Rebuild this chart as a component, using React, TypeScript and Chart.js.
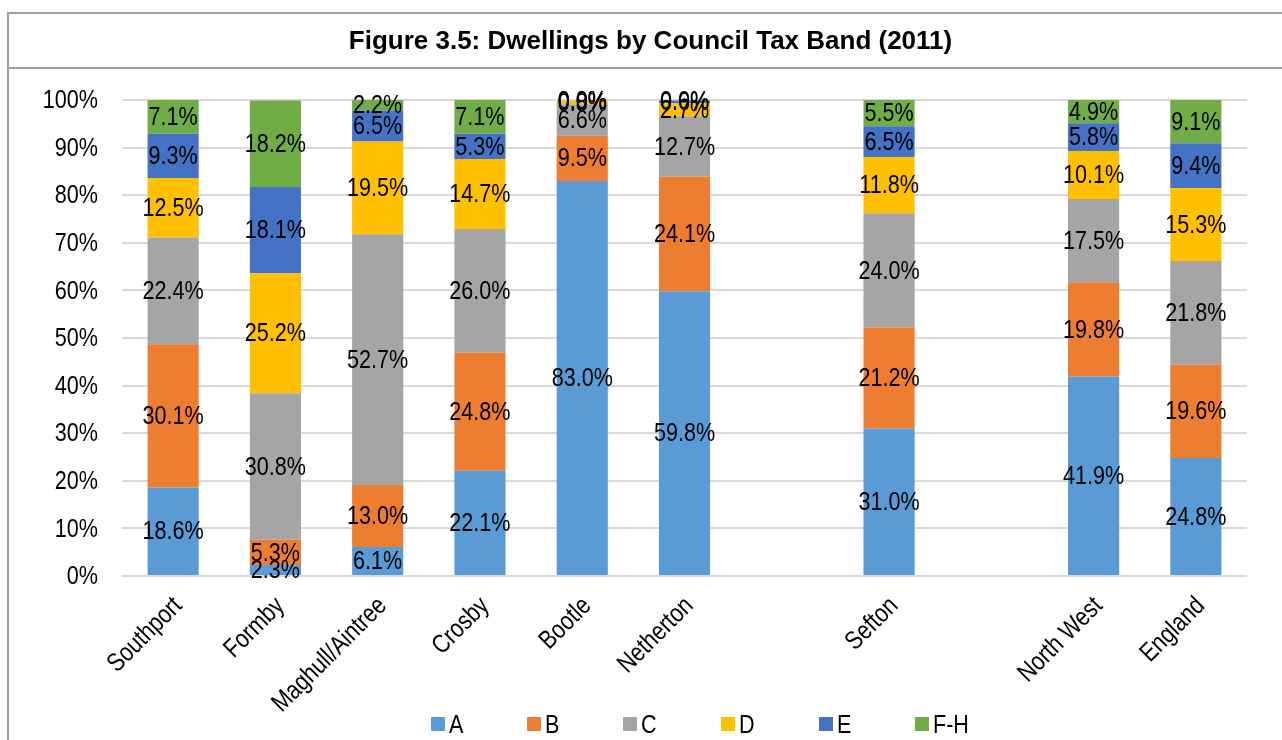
import React, { useEffect, useRef } from "react";
import { Chart, registerables } from "chart.js";

Chart.register(...registerables);

const categories = ["Southport", "Formby", "Maghull/Aintree", "Crosby", "Bootle", "Netherton", "", "Sefton", "", "North West", "England"];
const bandA = [18.6, 2.3, 6.1, 22.1, 83.0, 59.8, null, 31.0, null, 41.9, 24.8];
const bandB = [30.1, 5.3, 13.0, 24.8, 9.5, 24.1, null, 21.2, null, 19.8, 19.6];
const bandC = [22.4, 30.8, 52.7, 26.0, 6.6, 12.7, null, 24.0, null, 17.5, 21.8];
const bandD = [12.5, 25.2, 19.5, 14.7, 0.8, 2.7, null, 11.8, null, 10.1, 15.3];
const bandE = [9.3, 18.1, 6.5, 5.3, 0.0, 0.6, null, 6.5, null, 5.8, 9.4];
const bandFH = [7.1, 18.2, 2.2, 7.1, 0.0, 0.0, null, 5.5, null, 4.9, 9.1];
const seriesNames = ["A", "B", "C", "D", "E", "F-H"];
const seriesColors = ["#5B9BD5", "#ED7D31", "#A5A5A5", "#FFC000", "#4472C4", "#70AD47"];
const yTicks = [0, 10, 20, 30, 40, 50, 60, 70, 80, 90, 100];

const FONT = "'Liberation Sans', Arial, sans-serif";
const FS = 26;
const NARROW = 0.83;

function narrowText(ctx: any, text: string, x: number, y: number, align: CanvasTextAlign, rot = 0) {
  ctx.save();
  ctx.translate(x, y);
  if (rot) ctx.rotate(rot);
  ctx.scale(NARROW, 1);
  ctx.textAlign = align;
  ctx.fillText(text, 0, 0);
  ctx.restore();
}

const textPlugin = {
  id: "textPlugin",
  afterDraw(chart: any) {
    const ctx = chart.ctx;
    const area = chart.chartArea;
    ctx.save();
    ctx.font = `${FS}px ${FONT}`;
    ctx.fillStyle = "#000";
    ctx.textBaseline = "middle";
    // value labels
    chart.data.datasets.forEach((ds: any, di: number) => {
      const meta = chart.getDatasetMeta(di);
      meta.data.forEach((el: any, i: number) => {
        const v = ds.data[i];
        if (v === null || v === undefined) return;
        narrowText(ctx, v.toFixed(1) + "%", el.x, (el.y + el.base) / 2 + 1, "center");
      });
    });
    // y tick labels
    const ys = chart.scales.y;
    yTicks.forEach((v) => {
      narrowText(ctx, v + "%", area.left - 24, ys.getPixelForValue(v) + 1, "right");
    });
    // x tick labels
    const xs = chart.scales.x;
    categories.forEach((c, i) => {
      if (!c) return;
      narrowText(ctx, c, xs.getPixelForValue(i) + 5, area.bottom + 26, "right", -Math.PI / 4);
    });
    ctx.restore();
  },
};

export default function App() {
  const ref = useRef<HTMLCanvasElement>(null);
  useEffect(() => {
    document.body.style.overflow = "hidden";
    const data = [bandA, bandB, bandC, bandD, bandE, bandFH];
    const chart = new Chart(ref.current!, {
      type: "bar",
      data: {
        labels: categories,
        datasets: data.map((d, i) => ({
          label: seriesNames[i],
          data: d,
          backgroundColor: seriesColors[i],
          borderWidth: 0,
          categoryPercentage: 1,
          barPercentage: 0.5,
        })),
      },
      options: {
        responsive: false,
        animation: false,
        layout: { padding: { left: 20, top: 100, right: 35, bottom: 0 } },
        plugins: { legend: { display: false }, title: { display: false }, tooltip: { enabled: false } },
        scales: {
          x: {
            stacked: true,
            grid: { display: false, drawTicks: false },
            border: { display: false },
            ticks: { display: false, autoSkip: false },
            afterFit: (s: any) => {
              s.height = 164;
            },
          },
          y: {
            stacked: true,
            min: 0,
            max: 100,
            afterBuildTicks: (s: any) => {
              s.ticks = yTicks.map((v) => ({ value: v }));
            },
            grid: { color: "#d9d9d9", lineWidth: 2, drawTicks: false },
            border: { display: false },
            ticks: { display: false },
            afterFit: (s: any) => {
              s.width = 102;
            },
          },
        },
      },
      plugins: [textPlugin],
    });
    return () => chart.destroy();
  }, []);

  const legendLeft = [431, 527, 623, 721, 819, 915];
  return (
    <div style={{ position: "fixed", left: 0, top: 0, width: 1282, height: 740, overflow: "hidden", background: "#fff" }}>
      <canvas ref={ref} width={1282} height={740} style={{ position: "absolute", left: 0, top: 0 }} />
      <div
        style={{
          position: "absolute",
          left: 7,
          top: 12,
          width: 1300,
          height: 760,
          borderLeft: "2px solid #a0a0a0",
          borderTop: "2px solid #a0a0a0",
          pointerEvents: "none",
        }}
      />
      <div
        style={{
          position: "absolute",
          left: 9,
          top: 14,
          width: 1273,
          height: 53,
          borderBottom: "2px solid #a0a0a0",
          display: "flex",
          alignItems: "center",
          justifyContent: "center",
          boxSizing: "content-box",
          paddingLeft: 0,
          fontFamily: FONT,
          fontWeight: "bold",
          fontSize: 26,
          color: "#000",
        }}
      >
        <span style={{ display: "inline-block", position: "relative", left: 5 }}>Figure 3.5: Dwellings by Council Tax Band (2011)</span>
      </div>
      {seriesNames.map((n, i) => (
        <div
          key={n}
          style={{
            position: "absolute",
            left: legendLeft[i],
            top: 709,
            height: 30,
            display: "flex",
            alignItems: "center",
            fontFamily: FONT,
            fontSize: FS,
            color: "#000",
            whiteSpace: "nowrap",
          }}
        >
          <span style={{ display: "inline-block", width: 14, height: 14, background: seriesColors[i], marginRight: 4 }} />
          <span style={{ display: "inline-block", transform: `scaleX(${NARROW})`, transformOrigin: "left center" }}>{n}</span>
        </div>
      ))}
    </div>
  );
}
